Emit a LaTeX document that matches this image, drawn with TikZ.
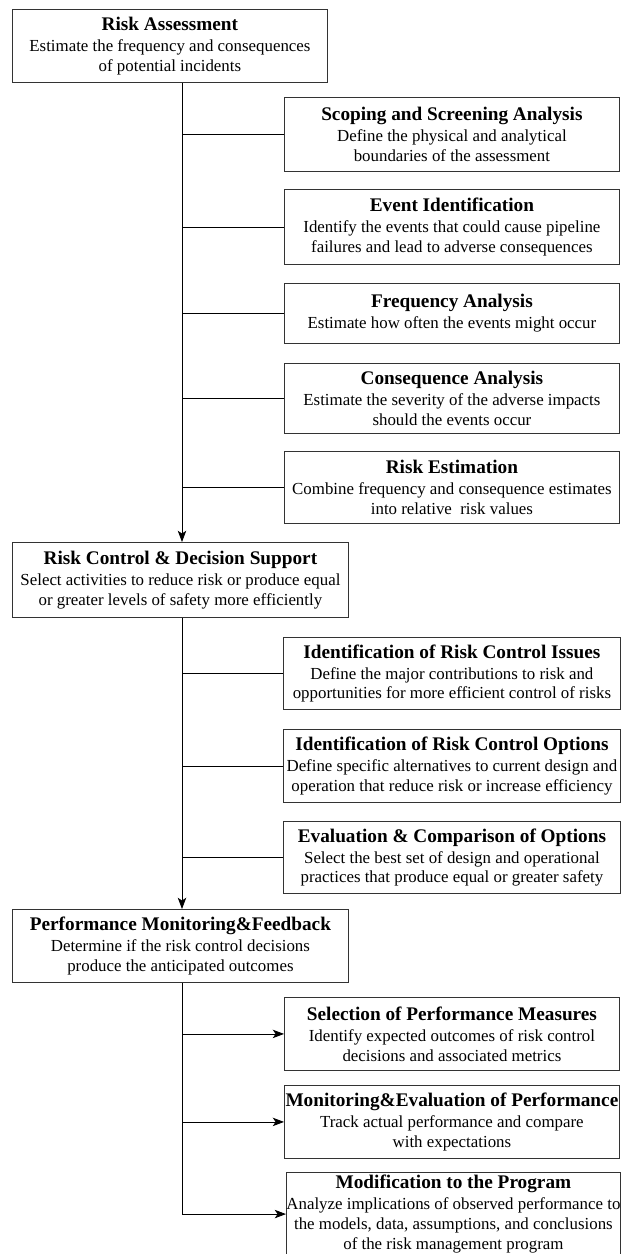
\documentclass[tikz,border=0pt]{standalone}
\usepackage{fontspec}
\setmainfont{Liberation Serif}
\usepackage{tikz}
\usetikzlibrary{arrows.meta}
\tikzstyle{arrow} = [
    -{Stealth[length=8pt,width=6pt,inset=2pt]}
]
\tikzstyle{mainbox} = [
    draw=black!80,
    anchor=north west,
    align=center,
    inner xsep=0pt,
    inner ysep=2pt,
    minimum width=8.4cm,
    font=\fontsize{12}{14}\selectfont
]
\tikzstyle{subbox} = [
    mainbox,
    minimum width=8.375cm
]
\newcommand{\boxhead}[1]{{\fontsize{13.7}{16}\selectfont\bfseries #1}\\[1pt]}

\begin{document}
\begin{tikzpicture}[line width=0.6pt]
\useasboundingbox (0,0) rectangle (15.575,-31.35);
\coordinate (trunk) at (4.55,0);

% assessment
\node[mainbox, minimum width=7.875cm, minimum height=1.825cm] (assess) at (0.3,-0.225)
    {\boxhead{Risk Assessment}Estimate the frequency and consequences\\of potential incidents};
\node[subbox, minimum height=1.85cm]  (scope)  at (7.1,-2.425)
    {\boxhead{Scoping and Screening Analysis}Define the physical and analytical\\boundaries of the assessment};
\node[subbox, minimum height=1.875cm] (event)  at (7.1,-4.725)
    {\boxhead{Event Identification}Identify the events that could cause pipeline\\failures and lead to adverse consequences};
\node[subbox, minimum height=1.5cm]   (freq)   at (7.1,-7.075)
    {\boxhead{Frequency Analysis}Estimate how often the events might occur};
\node[subbox, minimum height=1.75cm]  (conseq) at (7.1,-9.075)
    {\boxhead{Consequence Analysis}Estimate the severity of the adverse impacts\\should the events occur};
\node[subbox, minimum height=1.8cm]   (estim)  at (7.1,-11.275)
    {\boxhead{Risk Estimation}Combine frequency and consequence estimates\\into relative\ \ risk values};

% control
\node[mainbox, minimum height=1.875cm] (control) at (0.3,-13.55)
    {\boxhead{Risk Control \& Decision Support}Select activities to reduce risk or produce equal\\or greater levels of safety more efficiently};
\node[subbox, minimum width=8.425cm, minimum height=1.8cm]   (issues)  at (7.075,-15.925)
    {\boxhead{Identification of Risk Control Issues}Define the major contributions to risk and\\opportunities for more efficient control of risks};
\node[subbox, minimum width=8.425cm, minimum height=1.825cm] (options) at (7.075,-18.225)
    {\boxhead{Identification of Risk Control Options}Define specific alternatives to current design and\\operation that reduce risk or increase efficiency};
\node[subbox, minimum width=8.425cm, minimum height=1.8cm]   (compare) at (7.075,-20.525)
    {\boxhead{Evaluation \& Comparison of Options}Select the best set of design and operational\\practices that produce equal or greater safety};

% monitoring
\node[mainbox, minimum height=1.825cm] (monitor) at (0.3,-22.725)
    {\boxhead{Performance Monitoring\&Feedback}Determine if the risk control decisions\\produce the anticipated outcomes};
\node[subbox, minimum height=1.825cm] (measures) at (7.1,-24.925)
    {\boxhead{Selection of Performance Measures}Identify expected outcomes of risk control\\decisions and associated metrics};
\node[subbox, minimum height=1.825cm] (tracking) at (7.1,-27.125)
    {\boxhead{Monitoring\&Evaluation of Performance}Track actual performance and compare\\with expectations};
\node[subbox, minimum width=8.325cm, minimum height=1.95cm] (modify) at (7.15,-29.3)
    {\boxhead{Modification to the Program}Analyze implications of observed performance to\\the models, data, assumptions, and conclusions\\of the risk management program};

\draw[arrow] (assess.south -| trunk) -- (control.north -| trunk);
\foreach \n in {scope,event,freq,conseq,estim}
    \draw (\n.west -| trunk) -- (\n.west);

\draw[arrow] (control.south -| trunk) -- (monitor.north -| trunk);
\foreach \n in {issues,options,compare}
    \draw (\n.west -| trunk) -- (\n.west);

\draw[arrow] (monitor.south -| trunk) |- (modify.west);
\foreach \n in {measures,tracking}
    \draw[arrow] (\n.west -| trunk) -- (\n.west);
\end{tikzpicture}
\end{document}
